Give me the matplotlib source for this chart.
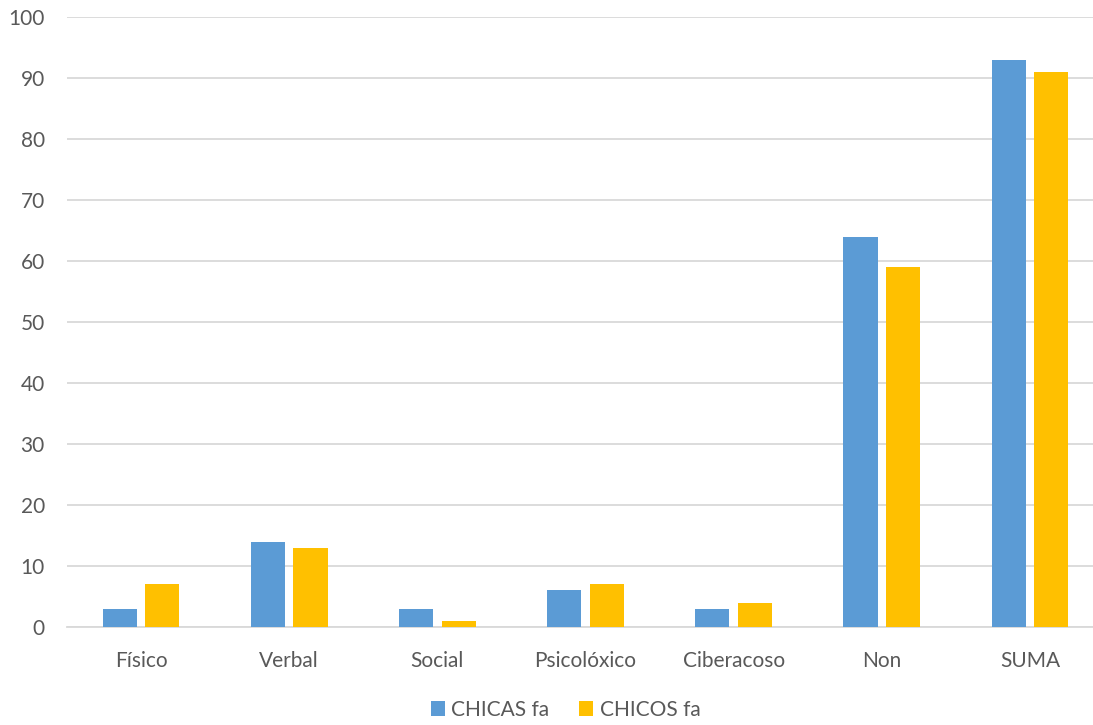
import numpy as np
import matplotlib
matplotlib.use('Agg')
import matplotlib.pyplot as plt

categories = ['Físico', 'Verbal', 'Social', 'Psicolóxico', 'Ciberacoso', 'Non', 'SUMA']
chicas = [3, 14, 3, 6, 3, 64, 93]
chicos = [7, 13, 1, 7, 4, 59, 91]

plt.rcParams['font.family'] = ['Lato', 'DejaVu Sans']

fig = plt.figure(figsize=(10.93, 7.25), dpi=100)
# plot area runs a little past the right edge, like in the source image
ax = fig.add_axes([67 / 1093, 0.1352, 1037 / 1093, 0.8414])

x = np.arange(len(categories))
w = 0.23
ax.bar(x - 0.1436, chicas, w, color='#5B9BD5', label='CHICAS fa', zorder=3)
ax.bar(x + 0.1436, chicos, w, color='#FFC000', label='CHICOS fa', zorder=3)

ax.set_xlim(-0.5, len(categories) - 0.5)
ax.set_ylim(0, 100)
ax.set_yticks(range(0, 101, 10))
ax.set_xticks(x)
ax.set_xticklabels(categories)
ax.yaxis.grid(True, color='#D9D9D9', linewidth=1.3, zorder=0)
for s in ['top', 'right', 'left']:
    ax.spines[s].set_visible(False)
ax.spines['bottom'].set_color('#D9D9D9')
ax.spines['bottom'].set_linewidth(1.3)
ax.tick_params(axis='both', length=0, labelsize=15, colors='#595959')
ax.tick_params(axis='x', pad=17)
ax.tick_params(axis='y', pad=16)

ax.legend(loc='center', bbox_to_anchor=(0.5 - 20 / 1037, -0.136), ncol=2, frameon=False,
          fontsize=15, labelcolor='#595959', handlelength=0.7, handleheight=0.7,
          handletextpad=0.3, columnspacing=1.4)

fig.savefig('out.png', dpi=100)
